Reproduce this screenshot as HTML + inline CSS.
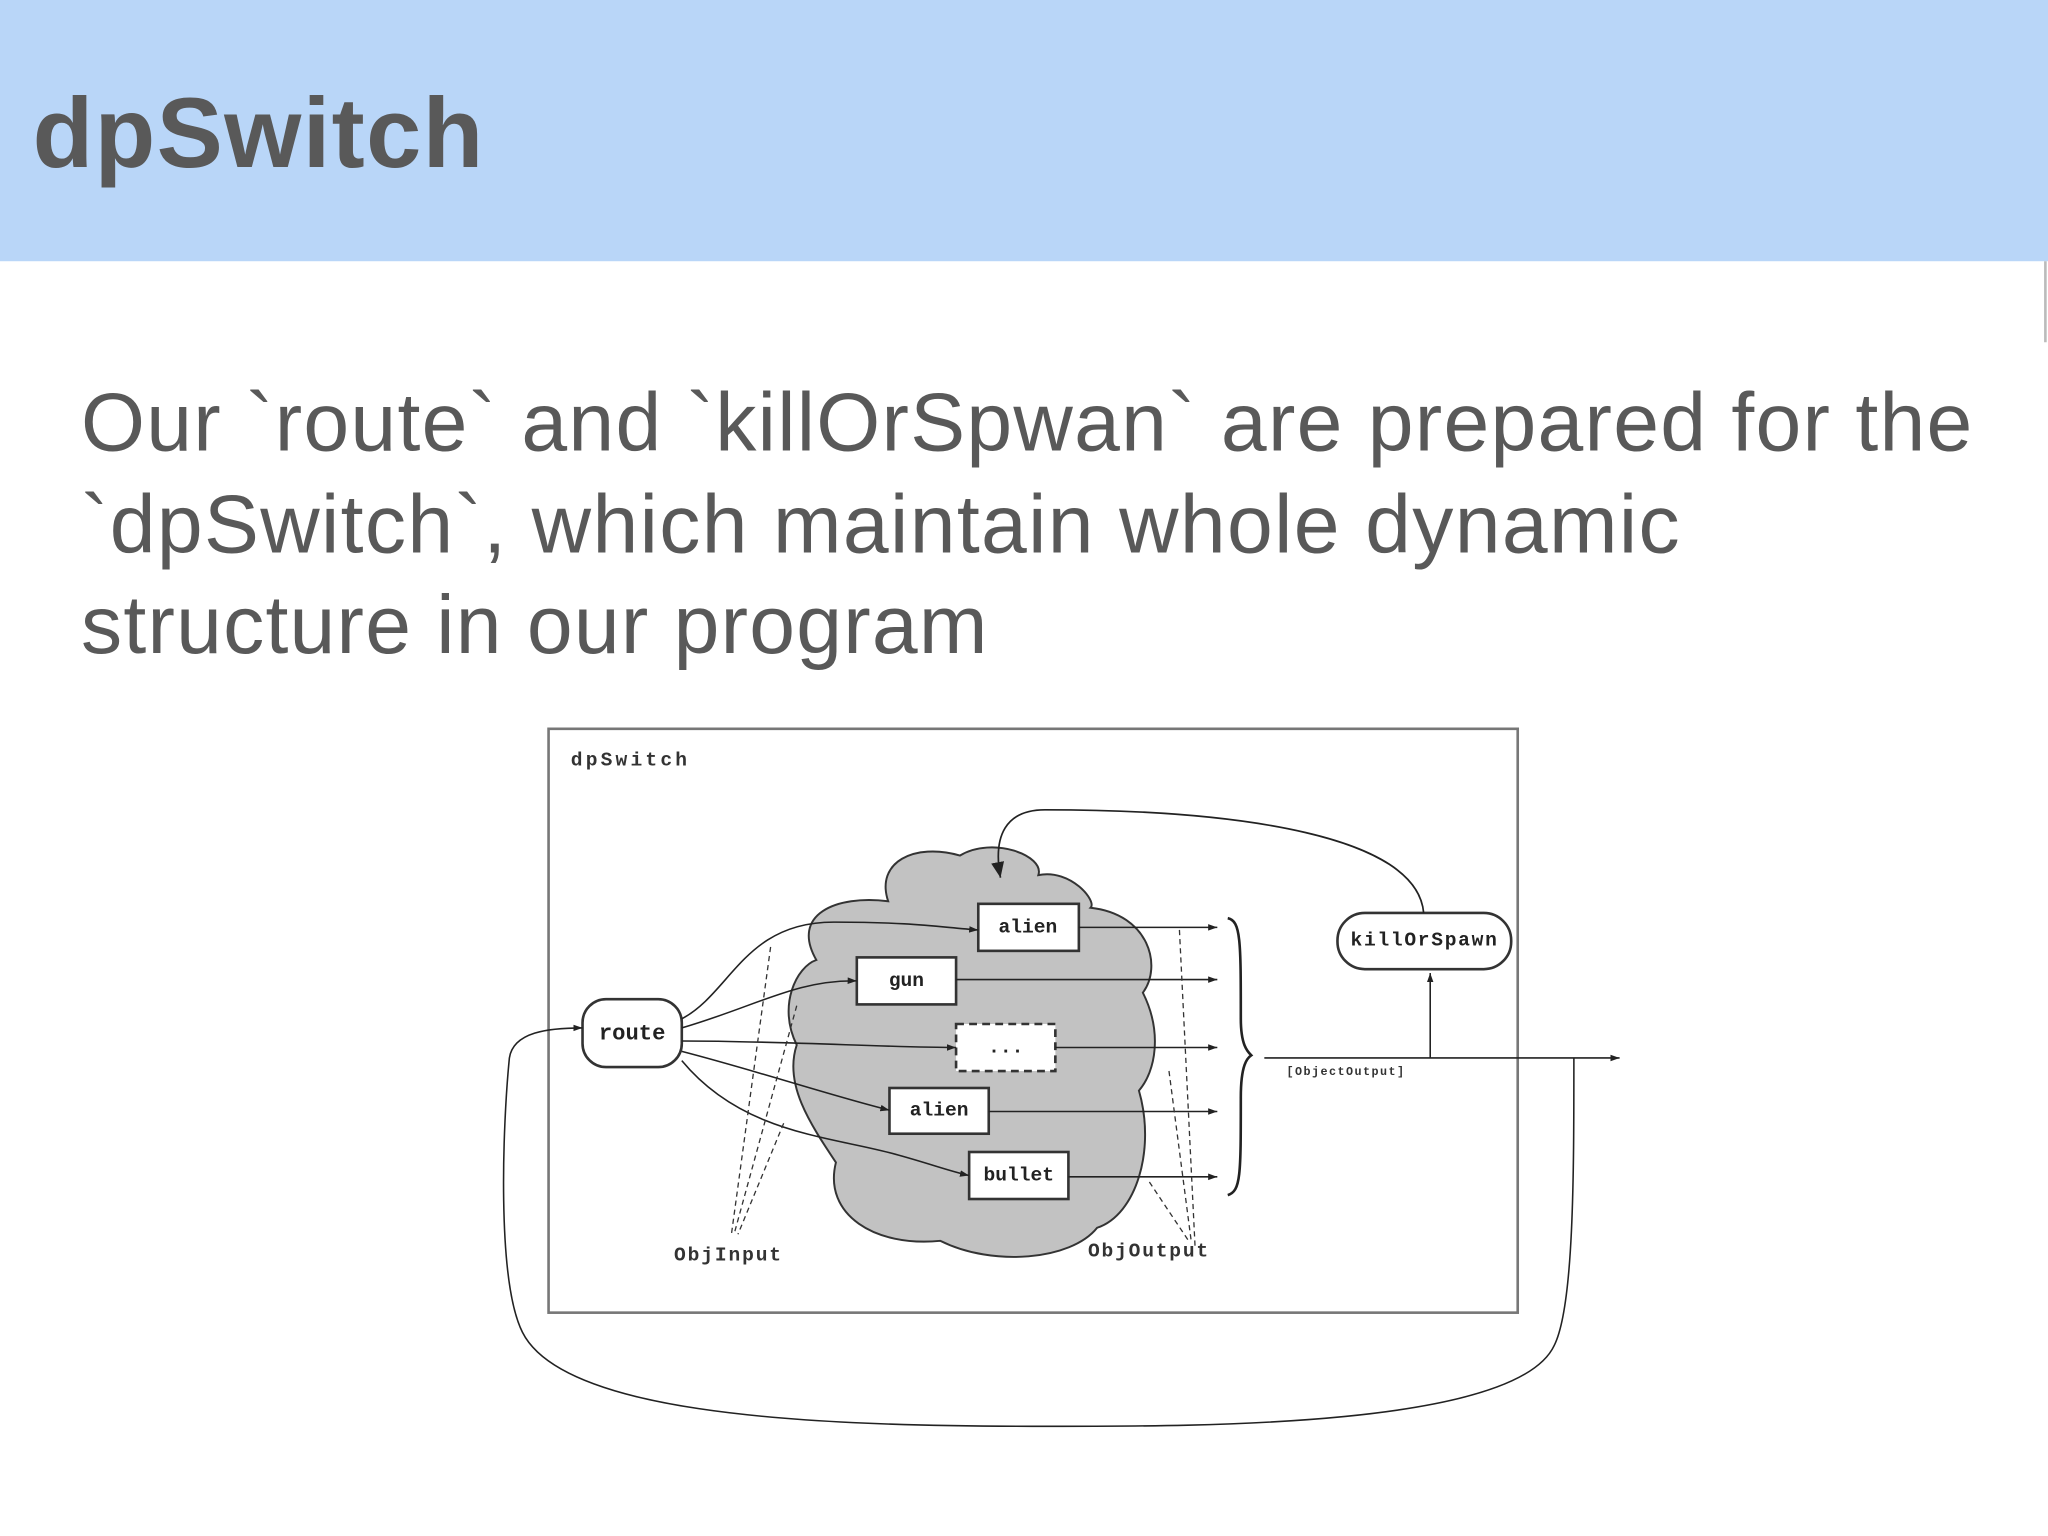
<!DOCTYPE html>
<html><head><meta charset="utf-8"><style>html,body{margin:0;padding:0;background:#fff}svg{display:block}</style></head>
<body>
<svg width="2048" height="1536" viewBox="0 0 1568 1176" xmlns="http://www.w3.org/2000/svg">
<defs>
<marker id="a" markerWidth="8" markerHeight="8" refX="7" refY="4" orient="auto" markerUnits="userSpaceOnUse"><path d="M0,1.5 L7,4 L0,6.5 Z" fill="#222"/></marker>
<marker id="b" markerWidth="14" markerHeight="14" refX="12" refY="7" orient="auto" markerUnits="userSpaceOnUse"><path d="M0,2 L12,7 L0,12 Z" fill="#222"/></marker>
</defs>
<rect x="0" y="0" width="1568" height="200" fill="#b9d6f8"/>
<line x1="1566" y1="200" x2="1566" y2="262" stroke="#bbb" stroke-width="2"/>
<text x="25" y="128" font-family="Liberation Sans, sans-serif" font-weight="bold" font-size="76" fill="#595959" textLength="345">dpSwitch</text>
<g font-family="Liberation Sans, sans-serif" font-size="63" fill="#595959">
<text x="62" y="345" textLength="1448">Our `route` and `killOrSpwan` are prepared for the</text>
<text x="62" y="423" textLength="1224">`dpSwitch`, which maintain whole dynamic</text>
<text x="62" y="500" textLength="694">structure in our program</text>
</g>
<rect x="420" y="558" width="742" height="447" fill="none" stroke="#777" stroke-width="2"/>
<g font-family="Liberation Mono, monospace" font-weight="bold" fill="#333">
<text x="437" y="586" font-size="15" textLength="89">dpSwitch</text>
<text x="516" y="965" font-size="15" textLength="82">ObjInput</text>
<text x="833" y="962" font-size="15" textLength="92">ObjOutput</text>
<text x="985" y="823" font-size="9" textLength="90">[ObjectOutput]</text>
</g>
<path d="M680,690 C670,660 700,645 735,655 C760,640 800,655 795,670 C820,665 840,690 835,695 C880,700 890,740 875,760 C890,790 885,820 872,835 C885,880 870,930 840,940 C820,965 760,970 720,950 C670,955 630,930 640,890 C620,860 600,830 610,800 C595,770 610,740 625,735 C605,700 640,685 680,690 Z" fill="#c2c2c2" stroke="#333" stroke-width="1.5"/>
<g fill="#fff" stroke="#333" stroke-width="2">
<rect x="749" y="692" width="77" height="36"/>
<rect x="656" y="733" width="76" height="36"/>
<rect x="732" y="784" width="76" height="36" stroke-dasharray="6,4"/>
<rect x="681" y="833" width="76" height="35"/>
<rect x="742" y="882" width="76" height="36"/>
<rect x="446" y="765" width="76" height="52" rx="18"/>
<rect x="1024" y="699" width="133" height="43" rx="21"/>
</g>
<g font-family="Liberation Mono, monospace" font-weight="bold" fill="#222" font-size="15" text-anchor="middle">
<text x="787" y="714">alien</text>
<text x="694" y="755">gun</text>
<text x="770" y="806">...</text>
<text x="719" y="854">alien</text>
<text x="780" y="904">bullet</text>
<text x="484" y="796" font-size="17">route</text>
<text x="1090" y="724" textLength="112">killOrSpawn</text>
</g>
<g fill="none" stroke="#222" stroke-width="1.2" marker-end="url(#a)">
<path d="M522,780 C560,760 570,705 640,706 C700,706 720,710 749,712"/>
<path d="M522,787 C580,770 610,750 656,751"/>
<path d="M522,797 C600,797 680,802 732,802"/>
<path d="M522,805 C580,820 640,840 681,850"/>
<path d="M522,812 C570,870 640,870 690,885 C715,892 728,897 742,900"/>
<path d="M826,710 L932,710"/><path d="M732,750 L932,750"/><path d="M808,802 L932,802"/>
<path d="M757,851 L932,851"/><path d="M818,901 L932,901"/>
<path d="M968,810 L1240,810"/>
<path d="M1095,810 L1095,745"/>
<path d="M1205,810 C1205,900 1205,1000 1190,1030 C1160,1095 900,1092 790,1092 C600,1092 430,1080 400,1020 C380,980 385,860 390,810 C393,790 420,787 446,787"/>
</g>
<path d="M1090,699 C1085,640 950,620 800,620 C770,620 760,640 766,672" fill="none" stroke="#222" stroke-width="1.3" marker-end="url(#b)"/>
<path d="M940,703 C950,705 950,720 950,780 C950,800 955,805 958,808 C955,810 950,815 950,840 C950,900 950,912 940,915" fill="none" stroke="#222" stroke-width="2"/>
<g fill="none" stroke="#333" stroke-width="1" stroke-dasharray="4,3">
<path d="M590,725 L560,945"/><path d="M610,770 L562,945"/><path d="M600,860 L565,945"/>
<path d="M903,712 L915,955"/><path d="M880,905 L910,950"/><path d="M895,820 L912,950"/>
</g>
</svg>
</body></html>
